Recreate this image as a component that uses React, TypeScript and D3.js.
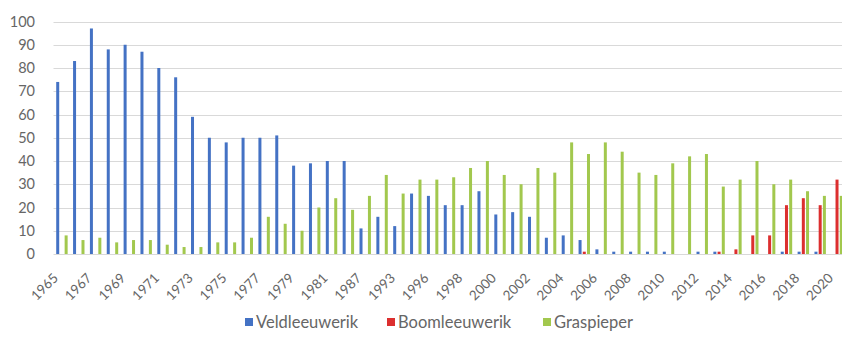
import React from "react";
import * as d3 from "d3";

// Yearly counts per species
const years = [
  "1965", "1966", "1967", "1968", "1969", "1970", "1971", "1972", "1973",
  "1974", "1975", "1976", "1977", "1978", "1979", "1980", "1981", "1983",
  "1987", "1990", "1993", "1995", "1996", "1997", "1998", "1999", "2000",
  "2001", "2002", "2003", "2004", "2005", "2006", "2007", "2008", "2009",
  "2010", "2011", "2012", "2013", "2014", "2015", "2016", "2017", "2018",
  "2019", "2020",
];

const veldleeuwerik = [
  74, 83, 97, 88, 90, 87, 80, 76, 59,
  50, 48, 50, 50, 51, 38, 39, 40, 40,
  11, 16, 12, 26, 25, 21, 21, 27, 17,
  18, 16, 7, 8, 6, 2, 1, 1, 1,
  1, 0, 1, 1, 0, 0, 0, 1, 1,
  1, 0,
];

const boomleeuwerik = [
  0, 0, 0, 0, 0, 0, 0, 0, 0,
  0, 0, 0, 0, 0, 0, 0, 0, 0,
  0, 0, 0, 0, 0, 0, 0, 0, 0,
  0, 0, 0, 0, 1, 0, 0, 0, 0,
  0, 0, 0, 1, 2, 8, 8, 21, 24,
  21, 32,
];

const graspieper = [
  8, 6, 7, 5, 6, 6, 4, 3, 3,
  5, 5, 7, 16, 13, 10, 20, 24, 19,
  25, 34, 26, 32, 32, 33, 37, 40, 34,
  30, 37, 35, 48, 43, 48, 44, 35, 34,
  39, 42, 43, 29, 32, 40, 30, 32, 27,
  25, 25,
];

const seriesNames = ["Veldleeuwerik", "Boomleeuwerik", "Graspieper"];
const seriesValues = [veldleeuwerik, boomleeuwerik, graspieper];
const seriesColors = ["#4472C4", "#DC2F2F", "#A2C84E"];

const yTicks = [0, 10, 20, 30, 40, 50, 60, 70, 80, 90, 100];

const W = 842;
const H = 347;
const FONT = "Lato, 'Liberation Sans', sans-serif";
const TEXT = "#666666";

export default function App() {
  const left = 53.5;
  const step = 16.85;
  const x0 = d3
    .scaleBand<string>()
    .domain(years)
    .range([left, left + step * years.length])
    .paddingInner(0.25)
    .paddingOuter(0.125);
  const x1 = d3
    .scaleBand<string>()
    .domain(seriesNames)
    .range([0, x0.bandwidth()]);
  const y = d3.scaleLinear().domain([0, 100]).range([254, 21.5]);

  const barW = 3;
  const legendX = [245, 387, 543];

  return (
    <svg
      width={W}
      height={H}
      style={{ position: "absolute", left: 0, top: 0, background: "#fff" }}
      fontFamily={FONT}
    >
      <rect width={W} height={H} fill="#ffffff" />
      {/* horizontal gridlines */}
      {yTicks.map((t) => (
        <line
          key={"g" + t}
          x1={left}
          x2={W}
          y1={Math.round(y(t)) + 0.5}
          y2={Math.round(y(t)) + 0.5}
          stroke="#d9d9d9"
          strokeWidth={1}
        />
      ))}
      {/* y tick labels */}
      {yTicks.map((t) => (
        <text
          key={"yt" + t}
          x={35}
          y={y(t)}
          dy="0.35em"
          textAnchor="end"
          fontSize={14.5}
          fill={TEXT}
        >
          {t}
        </text>
      ))}
      {/* bars */}
      {years.map((yr, i) => (
        <g key={yr} transform={`translate(${x0(yr)},0)`}>
          {seriesNames.map((s, k) => {
            const v = seriesValues[k][i];
            if (!v) return null;
            return (
              <rect
                key={s}
                x={(x1(s) as number) + (x1.bandwidth() - barW) / 2}
                y={y(v)}
                width={barW}
                height={y(0) - y(v)}
                fill={seriesColors[k]}
              />
            );
          })}
        </g>
      ))}
      {/* x tick labels, every other category */}
      {years.map((yr, i) =>
        i % 2 === 0 ? (
          <text
            key={"xt" + yr}
            transform={`translate(${(x0(yr) as number) + x0.bandwidth() / 2 - 3},279) rotate(-45)`}
            textAnchor="end"
            fontSize={13.5}
            fill={TEXT}
          >
            {yr}
          </text>
        ) : null
      )}
      {/* legend */}
      {seriesNames.map((s, k) => (
        <g key={"lg" + s} transform={`translate(${legendX[k]},322)`}>
          <rect x={0} y={-4} width={8} height={8} fill={seriesColors[k]} />
          <text x={11} y={0} dy="0.35em" fontSize={16.5} fill={TEXT}>
            {s}
          </text>
        </g>
      ))}
    </svg>
  );
}
